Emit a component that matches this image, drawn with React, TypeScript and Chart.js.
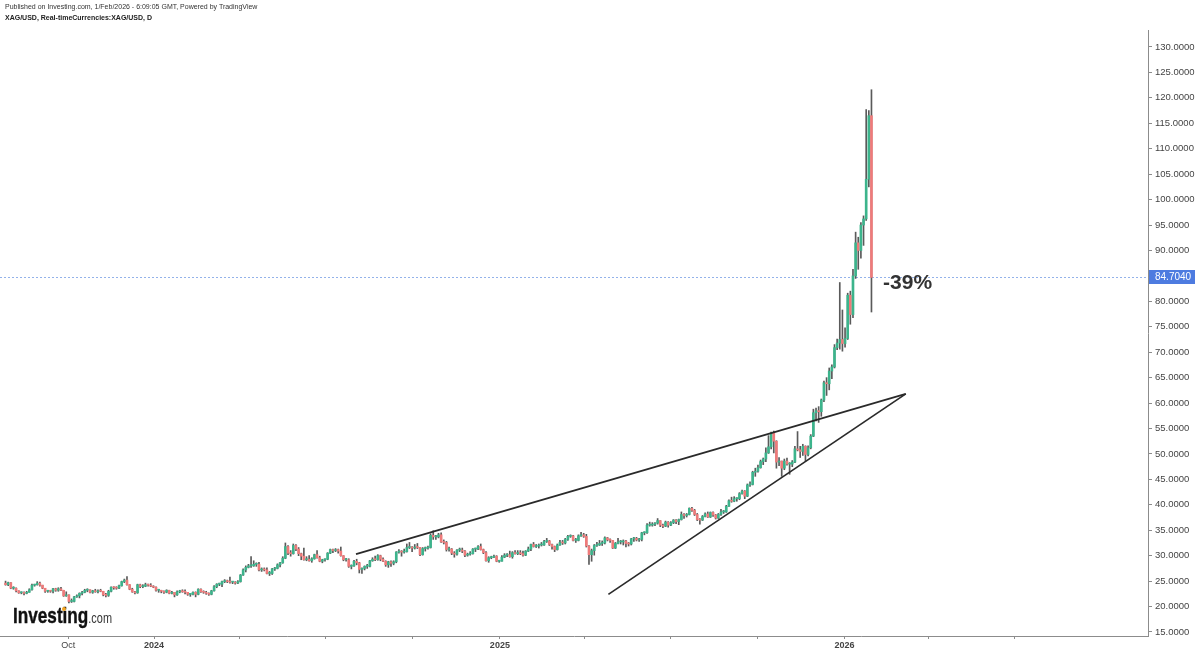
import React, { useEffect, useRef } from 'react';
import { Chart, registerables } from 'chart.js';

Chart.register(...registerables);

// Trading-day index of the first bar (0 = 1 Jan 2024); each bar spans two trading days
const FIRST_BAR_DAY = -113;
const DAYS_PER_BAR = 2;

const opens = [
  24.6, 24.3, 24.7, 23.6, 23.6, 23.1, 22.7, 22.7, 22.6, 22.8,
  23.3, 24.2, 24.3, 24.6, 24.2, 23.6, 23.0, 23.1, 23.0, 23.5,
  23.2, 23.5, 23.2, 22.1, 22.3, 21.0, 21.0, 21.9, 22.1, 22.6,
  22.8, 23.2, 23.3, 22.8, 23.1, 22.9, 23.1, 23.0, 22.3, 22.2,
  23.0, 23.8, 23.7, 23.6, 24.1, 24.9, 25.2, 24.3, 23.4, 22.9,
  22.7, 24.3, 23.9, 24.0, 24.3, 24.2, 24.0, 23.8, 23.2, 23.2,
  23.0, 22.8, 23.2, 22.6, 22.8, 22.3, 22.9, 23.1, 22.9, 22.8,
  22.4, 22.4, 22.8, 22.4, 23.4, 22.9, 22.8, 22.6, 22.4, 23.1,
  23.9, 24.4, 24.4, 24.9, 25.0, 24.9, 24.8, 24.8, 24.6, 24.9,
  26.2, 27.2, 27.7, 28.0, 28.0, 28.3, 28.3, 27.2, 27.3, 27.2,
  26.5, 26.5, 27.4, 27.5, 28.2, 28.6, 29.5, 31.8, 30.5, 30.4,
  32.0, 31.3, 30.4, 29.9, 29.2, 29.3, 29.0, 29.4, 30.2, 29.6,
  28.9, 29.2, 29.3, 30.5, 31.2, 31.0, 31.2, 30.9, 30.0, 29.2,
  29.2, 27.9, 28.0, 28.9, 28.6, 27.3, 27.5, 27.9, 27.9, 29.0,
  29.3, 29.2, 30.0, 29.3, 28.9, 28.2, 28.8, 28.5, 28.8, 30.7,
  30.8, 30.7, 30.8, 31.6, 31.6, 31.5, 31.7, 31.6, 30.2, 31.4,
  31.5, 31.6, 34.0, 33.7, 33.7, 34.1, 32.7, 32.6, 31.2, 31.3,
  30.5, 30.3, 31.1, 31.1, 30.9, 30.1, 30.3, 30.4, 31.3, 31.3,
  31.8, 31.2, 30.6, 29.0, 29.6, 29.7, 29.9, 28.9, 28.9, 29.7,
  30.1, 30.2, 29.8, 30.6, 30.4, 30.6, 30.4, 30.1, 30.9, 31.3,
  32.2, 31.8, 31.9, 32.1, 32.1, 32.8, 32.9, 32.2, 31.8, 31.2,
  32.1, 32.6, 32.5, 33.2, 33.8, 33.9, 33.0, 33.0, 33.9, 34.1,
  33.8, 31.9, 30.2, 31.0, 32.0, 32.1, 32.4, 32.5, 33.5, 33.1,
  33.0, 31.5, 32.4, 32.7, 32.7, 32.9, 32.4, 32.3, 33.3, 33.4,
  33.1, 33.2, 34.5, 34.5, 36.0, 36.0, 36.2, 36.4, 36.9, 36.0,
  35.8, 36.6, 36.0, 36.5, 37.0, 36.7, 37.1, 38.1, 37.9, 38.1,
  39.3, 38.9, 38.1, 37.1, 37.0, 37.7, 38.2, 37.6, 38.5, 38.0,
  37.4, 38.1, 38.6, 38.6, 39.7, 40.8, 40.7, 41.2, 41.2, 42.2,
  42.7, 41.7, 43.9, 44.0, 46.4, 46.6, 47.3, 48.5, 49.0, 50.2,
  51.4, 54.1, 52.5, 48.4, 48.6, 47.2, 48.6, 48.0, 48.0, 48.4,
  51.0, 50.8, 50.5, 51.5, 49.9, 51.2, 53.5, 58.1, 58.5, 58.3,
  60.6, 64.0, 63.8, 66.3, 67.1, 70.9, 71.8, 72.5, 71.7, 72.7,
  81.2, 77.4, 85.0, 91.5, 90.0, 95.0, 96.2, 104.0, 116.5,
];

const highs = [
  25.0, 24.8, 24.7, 23.9, 23.7, 23.1, 22.9, 22.9, 23.0, 23.5,
  24.4, 24.4, 24.9, 24.8, 24.2, 23.6, 23.2, 23.2, 23.6, 23.6,
  23.7, 23.8, 23.2, 22.9, 22.3, 21.5, 22.0, 22.3, 22.7, 23.0,
  23.4, 23.5, 23.3, 23.2, 23.4, 23.3, 23.4, 23.0, 22.6, 23.2,
  23.9, 23.9, 23.9, 24.2, 25.0, 25.4, 25.9, 24.3, 23.6, 23.0,
  24.4, 24.4, 24.3, 24.6, 24.4, 24.5, 24.1, 23.9, 23.4, 23.2,
  23.1, 23.3, 23.2, 23.0, 22.8, 23.1, 23.2, 23.3, 23.3, 22.8,
  22.5, 22.9, 22.9, 23.5, 23.5, 23.1, 23.0, 22.7, 23.2, 24.1,
  24.5, 24.6, 25.0, 25.3, 25.2, 25.8, 24.9, 24.9, 25.1, 26.3,
  27.4, 28.0, 28.3, 29.8, 29.0, 28.6, 28.7, 27.6, 27.6, 27.6,
  26.9, 27.5, 27.7, 28.4, 28.7, 29.8, 32.5, 32.0, 31.0, 32.3,
  32.2, 31.6, 30.5, 31.5, 29.8, 30.0, 29.6, 30.3, 31.0, 29.9,
  29.3, 29.4, 30.6, 31.3, 31.3, 31.4, 31.3, 31.7, 30.0, 29.5,
  29.4, 28.2, 29.1, 29.3, 28.7, 27.6, 28.0, 28.3, 29.1, 29.6,
  29.9, 30.2, 30.1, 29.6, 29.0, 28.9, 29.0, 29.0, 30.8, 31.2,
  31.0, 31.3, 32.3, 32.6, 31.8, 32.2, 32.4, 31.6, 31.6, 31.7,
  31.9, 34.3, 34.9, 34.0, 34.4, 34.5, 33.1, 32.8, 31.7, 31.4,
  30.8, 31.2, 31.5, 31.5, 31.0, 30.5, 30.8, 31.4, 31.5, 32.0,
  32.3, 31.3, 30.8, 29.8, 29.9, 30.1, 30.0, 29.1, 30.0, 30.4,
  30.4, 30.9, 30.8, 31.0, 31.0, 31.0, 30.9, 31.0, 31.7, 32.3,
  32.6, 32.2, 32.3, 32.6, 33.0, 33.4, 33.0, 32.3, 31.9, 32.3,
  33.0, 33.0, 33.4, 34.0, 34.1, 34.0, 33.4, 34.1, 34.6, 34.4,
  34.2, 32.0, 31.3, 32.2, 32.6, 33.0, 32.9, 33.7, 33.6, 33.3,
  33.0, 32.6, 33.4, 33.0, 33.1, 33.0, 32.6, 33.4, 33.6, 33.6,
  33.4, 34.6, 34.7, 36.3, 36.6, 36.5, 36.5, 37.3, 36.9, 36.2,
  36.8, 36.7, 36.7, 37.1, 37.1, 37.2, 38.6, 38.3, 38.3, 39.4,
  39.5, 39.1, 38.3, 37.3, 37.9, 38.4, 38.6, 38.6, 38.6, 38.1,
  38.3, 39.1, 38.9, 39.9, 41.0, 41.5, 41.6, 41.4, 42.4, 42.9,
  42.8, 44.1, 44.5, 46.6, 47.2, 47.8, 48.8, 49.2, 51.2, 53.6,
  54.3, 54.5, 52.6, 49.3, 48.6, 49.0, 49.2, 48.3, 48.7, 51.5,
  54.4, 51.5, 51.9, 51.6, 51.6, 53.8, 58.8, 59.0, 59.3, 60.8,
  64.3, 65.0, 66.9, 67.5, 71.5, 72.6, 83.7, 78.3, 74.8, 81.6,
  82.0, 86.3, 93.6, 92.6, 95.5, 96.8, 117.7, 117.5, 121.6,
];

const lows = [
  24.2, 24.1, 23.5, 23.4, 22.9, 22.6, 22.5, 22.3, 22.5, 22.8,
  23.2, 24.0, 24.2, 24.0, 23.5, 22.8, 22.8, 22.8, 22.7, 23.0,
  23.0, 23.1, 22.0, 22.0, 20.7, 20.8, 20.9, 21.8, 21.7, 22.3,
  22.7, 22.9, 22.7, 22.6, 22.8, 22.7, 22.9, 22.1, 21.9, 22.0,
  22.9, 23.4, 23.4, 23.5, 24.0, 24.7, 24.2, 23.3, 22.8, 22.5,
  22.6, 23.7, 23.7, 23.9, 24.0, 23.9, 23.7, 23.0, 22.8, 22.7,
  22.6, 22.7, 22.5, 22.5, 21.9, 22.2, 22.7, 22.8, 22.5, 22.2,
  22.0, 22.3, 21.9, 22.3, 22.8, 22.6, 22.4, 22.2, 22.3, 23.0,
  23.7, 24.1, 23.9, 24.7, 24.7, 24.6, 24.5, 24.4, 24.5, 24.8,
  26.1, 26.8, 27.6, 27.7, 27.9, 27.9, 27.0, 26.9, 27.0, 26.4,
  26.1, 26.3, 27.1, 27.4, 27.8, 28.5, 29.4, 30.2, 29.9, 30.3,
  31.0, 30.0, 29.2, 29.1, 29.0, 28.9, 28.7, 29.3, 29.5, 28.8,
  28.6, 28.9, 29.2, 30.4, 30.6, 30.8, 30.5, 29.9, 29.0, 28.9,
  27.7, 27.4, 27.9, 28.2, 26.6, 26.5, 27.2, 27.5, 27.8, 28.9,
  29.0, 29.1, 29.0, 28.8, 27.9, 27.7, 27.9, 28.2, 28.6, 30.5,
  29.9, 30.5, 30.7, 31.4, 30.8, 31.3, 31.4, 30.0, 30.1, 30.9,
  31.3, 31.5, 33.2, 33.2, 33.5, 32.6, 32.3, 30.9, 30.9, 30.2,
  29.7, 30.1, 30.8, 30.6, 29.8, 29.9, 30.1, 30.3, 30.8, 31.2,
  31.1, 30.4, 28.9, 28.7, 29.4, 29.6, 28.8, 28.7, 28.9, 29.6,
  29.8, 29.7, 29.5, 30.3, 30.2, 30.2, 29.9, 30.0, 30.8, 31.0,
  31.7, 31.6, 31.5, 31.9, 32.0, 32.6, 32.0, 31.3, 30.8, 31.1,
  32.0, 32.2, 32.3, 33.0, 33.6, 32.9, 32.6, 32.9, 33.8, 33.6,
  31.7, 28.3, 28.9, 30.1, 31.8, 32.0, 32.0, 32.3, 32.9, 32.6,
  31.4, 31.4, 32.3, 32.3, 32.1, 31.7, 31.9, 32.1, 32.8, 32.9,
  32.8, 32.9, 34.1, 34.4, 35.8, 35.8, 35.9, 36.2, 35.7, 35.5,
  35.7, 35.6, 35.9, 36.3, 36.3, 36.1, 37.0, 37.3, 37.6, 38.0,
  38.7, 37.9, 36.9, 36.2, 36.9, 37.6, 37.5, 37.5, 37.7, 37.2,
  37.3, 37.9, 38.3, 38.5, 39.7, 40.5, 40.6, 40.7, 41.0, 42.1,
  41.2, 41.6, 43.6, 43.9, 45.6, 46.4, 47.2, 47.9, 48.5, 50.1,
  51.0, 50.2, 47.2, 47.7, 45.6, 46.9, 47.8, 46.0, 47.5, 48.3,
  50.6, 49.3, 49.7, 48.6, 49.6, 51.0, 53.4, 56.5, 56.2, 57.4,
  60.3, 61.5, 62.6, 64.8, 66.9, 70.5, 70.6, 70.2, 71.0, 72.5,
  75.5, 76.8, 84.5, 86.3, 88.5, 91.0, 95.9, 102.5, 77.9,
];

const closes = [
  24.3, 24.7, 23.6, 23.6, 23.1, 22.7, 22.7, 22.6, 22.8, 23.3,
  24.2, 24.3, 24.6, 24.2, 23.6, 23.0, 23.1, 23.0, 23.5, 23.2,
  23.5, 23.2, 22.1, 22.3, 21.0, 21.0, 21.9, 22.1, 22.6, 22.8,
  23.2, 23.3, 22.8, 23.1, 22.9, 23.1, 23.0, 22.3, 22.2, 23.0,
  23.8, 23.7, 23.6, 24.1, 24.9, 25.2, 24.3, 23.4, 22.9, 22.7,
  24.3, 23.9, 24.0, 24.3, 24.2, 24.0, 23.8, 23.2, 23.2, 23.0,
  22.8, 23.2, 22.6, 22.8, 22.3, 22.9, 23.1, 22.9, 22.8, 22.4,
  22.4, 22.8, 22.4, 23.4, 22.9, 22.8, 22.6, 22.4, 23.1, 23.9,
  24.4, 24.4, 24.9, 25.0, 24.9, 24.8, 24.8, 24.6, 24.9, 26.2,
  27.2, 27.7, 28.0, 28.0, 28.3, 28.3, 27.2, 27.3, 27.2, 26.5,
  26.5, 27.4, 27.5, 28.2, 28.6, 29.5, 31.8, 30.5, 30.4, 32.0,
  31.3, 30.4, 29.9, 29.2, 29.3, 29.0, 29.4, 30.2, 29.6, 28.9,
  29.2, 29.3, 30.5, 31.2, 31.0, 31.2, 30.9, 30.0, 29.2, 29.2,
  27.9, 28.0, 28.9, 28.6, 27.3, 27.5, 27.9, 27.9, 29.0, 29.3,
  29.2, 30.0, 29.3, 28.9, 28.2, 28.8, 28.5, 28.8, 30.7, 30.8,
  30.7, 30.8, 31.6, 31.6, 31.5, 31.7, 31.6, 30.2, 31.4, 31.5,
  31.6, 34.0, 33.7, 33.7, 34.1, 32.7, 32.6, 31.2, 31.3, 30.5,
  30.3, 31.1, 31.1, 30.9, 30.1, 30.3, 30.4, 31.3, 31.3, 31.8,
  31.2, 30.6, 29.0, 29.6, 29.7, 29.9, 28.9, 28.9, 29.7, 30.1,
  30.2, 29.8, 30.6, 30.4, 30.6, 30.4, 30.1, 30.9, 31.3, 32.2,
  31.8, 31.9, 32.1, 32.1, 32.8, 32.9, 32.2, 31.8, 31.2, 32.1,
  32.6, 32.5, 33.2, 33.8, 33.9, 33.0, 33.0, 33.9, 34.1, 33.8,
  31.9, 30.2, 31.0, 32.0, 32.1, 32.4, 32.5, 33.5, 33.1, 33.0,
  31.5, 32.4, 32.7, 32.7, 32.9, 32.4, 32.3, 33.3, 33.4, 33.1,
  33.2, 34.5, 34.5, 36.0, 36.0, 36.2, 36.4, 36.9, 36.0, 35.8,
  36.6, 36.0, 36.5, 37.0, 36.7, 37.1, 38.1, 37.9, 38.1, 39.3,
  38.9, 38.1, 37.1, 37.0, 37.7, 38.2, 37.6, 38.5, 38.0, 37.4,
  38.1, 38.6, 38.6, 39.7, 40.8, 40.7, 41.2, 41.2, 42.2, 42.7,
  41.7, 43.9, 44.0, 46.4, 46.6, 47.3, 48.5, 49.0, 50.2, 51.4,
  54.1, 52.5, 48.4, 48.6, 47.2, 48.6, 48.0, 48.0, 48.4, 51.0,
  50.8, 50.5, 51.5, 49.9, 51.2, 53.5, 58.1, 58.5, 58.3, 60.6,
  64.0, 63.8, 66.3, 67.1, 70.9, 71.8, 72.5, 71.7, 72.7, 81.2,
  77.4, 85.0, 91.5, 90.0, 95.0, 96.2, 104.0, 116.5, 84.7,
];

// Axis ticks (trading-day index of each quarter start) and their labels
const quarterDays = [-65, 0, 65, 130, 196, 262, 326, 391, 457, 523, 587, 652];
const quarterLabels = ['Oct', '2024', '', '', '', '2025', '', '', '', '2026', '', ''];
const priceTicks = [15, 20, 25, 30, 35, 40, 45, 50, 55, 60, 65, 70, 75, 80, 85, 90, 95, 100, 105, 110, 115, 120, 125, 130];

// Hand-drawn trend lines (trading-day index, price)
const upperTrendDays = [153.0, 569.5];
const upperTrendPrices = [30.3, 61.8];
const lowerTrendDays = [344.2, 569.5];
const lowerTrendPrices = [22.4, 61.8];

const lastPrice = 84.704;
const annotationText = '-39%';
const annotationDay = 552.3;
const annotationPrice = 83.6;

const X_MIN = -116.7;
const X_MAX = 753.0;
const Y_MIN = 14.21;
const Y_MAX = 133.34;

const UP = '#3cb48c';
const DOWN = '#ef7a7a';
const WICK = '#5a5a5a';

const overlayPlugin = {
  id: 'overlay',
  beforeDatasetsDraw(chart: any) {
    const { ctx, chartArea, scales } = chart;
    const y = Math.round(scales.y.getPixelForValue(lastPrice)) + 0.5;
    ctx.save();
    ctx.strokeStyle = '#93b2ea';
    ctx.lineWidth = 1;
    ctx.setLineDash([2, 2]);
    ctx.beginPath();
    ctx.moveTo(chartArea.left, y);
    ctx.lineTo(chartArea.right, y);
    ctx.stroke();
    ctx.restore();
  },
  afterDraw(chart: any) {
    const { ctx, chartArea, scales } = chart;
    const y = scales.y.getPixelForValue(lastPrice);
    ctx.save();
    ctx.fillStyle = '#4d7be0';
    ctx.fillRect(chartArea.right + 1, Math.round(y) - 7, 46, 14);
    ctx.fillStyle = '#ffffff';
    ctx.font = '10px "Liberation Sans", Arial, sans-serif';
    ctx.textBaseline = 'middle';
    ctx.textAlign = 'left';
    ctx.fillText(lastPrice.toFixed(4), chartArea.right + 7, Math.round(y) + 0.5);

    const ax = scales.x.getPixelForValue(annotationDay);
    const ay = scales.y.getPixelForValue(annotationPrice);
    ctx.fillStyle = '#333333';
    ctx.font = 'bold 21px "Liberation Sans", Arial, sans-serif';
    ctx.fillText(annotationText, ax, ay);
    ctx.restore();
  },
};

export default function App() {
  const canvasRef = useRef<HTMLCanvasElement | null>(null);

  useEffect(() => {
    const canvas = canvasRef.current;
    if (!canvas) return;
    const barDays = closes.map((_, i) => FIRST_BAR_DAY + DAYS_PER_BAR * i + 0.5);
    const wickData = barDays.map((d, i) => ({ x: d, y: [lows[i], highs[i]] }));
    const bodyData = barDays.map((d, i) => ({ x: d, y: [opens[i], closes[i]] }));
    const bodyColors = closes.map((c, i) => (c >= opens[i] ? UP : DOWN));

    const chart = new Chart(canvas, {
      type: 'bar',
      data: {
        datasets: [
          {
            type: 'line',
            data: upperTrendDays.map((d, i) => ({ x: d, y: upperTrendPrices[i] })),
            borderColor: '#2a2a2a',
            borderWidth: 1.7,
            pointRadius: 0,
            order: 0,
          } as any,
          {
            type: 'line',
            data: lowerTrendDays.map((d, i) => ({ x: d, y: lowerTrendPrices[i] })),
            borderColor: '#2a2a2a',
            borderWidth: 1.7,
            pointRadius: 0,
            order: 0,
          } as any,
          {
            type: 'bar',
            data: bodyData as any,
            backgroundColor: bodyColors,
            barThickness: 2,
            minBarLength: 1,
            grouped: false,
            order: 1,
          },
          {
            type: 'bar',
            data: wickData as any,
            backgroundColor: WICK,
            barThickness: 1,
            grouped: false,
            order: 2,
          },
        ],
      },
      options: {
        responsive: false,
        animation: false,
        events: [],
        layout: { padding: { top: 30, left: 0, right: 0, bottom: 0 } },
        plugins: { legend: { display: false }, tooltip: { enabled: false } },
        scales: {
          x: {
            type: 'linear',
            min: X_MIN,
            max: X_MAX,
            offset: false,
            afterFit: (s: any) => { s.height = 18; },
            afterBuildTicks: (s: any) => { s.ticks = quarterDays.map((v) => ({ value: v })); },
            grid: { offset: false, drawOnChartArea: false, drawTicks: true, tickLength: 3, color: '#8c8c8c' },
            border: { display: true, color: '#8c8c8c', width: 1 },
            ticks: {
              autoSkip: false,
              maxRotation: 0,
              padding: 1,
              color: '#444444',
              font: (c: any) => ({
                size: 9,
                family: '"Liberation Sans", Arial, sans-serif',
                weight: c.tick && /^\d{4}$/.test(c.tick.label) ? 'bold' : 'normal',
              }),
              callback: (v: any) => {
                const i = quarterDays.indexOf(v);
                return i >= 0 ? quarterLabels[i] : '';
              },
            },
          },
          y: {
            type: 'linear',
            position: 'right',
            min: Y_MIN,
            max: Y_MAX,
            afterFit: (s: any) => { s.width = 52; },
            afterBuildTicks: (s: any) => { s.ticks = priceTicks.map((v) => ({ value: v })); },
            grid: { offset: false, drawOnChartArea: false, drawTicks: true, tickLength: 4, color: '#8c8c8c' },
            border: { display: true, color: '#8c8c8c', width: 1 },
            ticks: {
              padding: 3,
              color: '#444444',
              font: { size: 9.5, family: '"Liberation Sans", Arial, sans-serif' },
              callback: (v: any) => Number(v).toFixed(4),
            },
          },
        },
      },
      plugins: [overlayPlugin],
    } as any);

    return () => chart.destroy();
  }, []);

  return (
    <div style={{ position: 'absolute', left: 0, top: 0, width: 1200, height: 654, background: '#ffffff', overflow: 'hidden' }}>
      <canvas ref={canvasRef} width={1200} height={654} style={{ position: 'absolute', left: 0, top: 0 }} />
      <div style={{ position: 'absolute', left: 5, top: 3, font: '7px "Liberation Sans", Arial, sans-serif', color: '#333', whiteSpace: 'nowrap' }}>
        Published on Investing.com, 1/Feb/2026 - 6:09:05 GMT, Powered by TradingView
      </div>
      <div style={{ position: 'absolute', left: 5, top: 14, font: 'bold 7px "Liberation Sans", Arial, sans-serif', color: '#222', whiteSpace: 'nowrap' }}>
        XAG/USD, Real-timeCurrencies:XAG/USD, D
      </div>
      <div style={{ position: 'absolute', left: 13, top: 603, whiteSpace: 'nowrap', lineHeight: '24px', transform: 'scaleX(0.78)', transformOrigin: '0 0' }}>
        <span style={{ font: 'bold 22px "Liberation Sans", Arial, sans-serif', color: '#111', WebkitTextStroke: '0.4px #111' }}>Investing</span>
        <span style={{ font: '14px "Liberation Sans", Arial, sans-serif', color: '#333' }}>.com</span>
      </div>
      <div style={{ position: 'absolute', left: 62, top: 607, width: 4, height: 4, borderRadius: 2, background: '#f5a623' }} />
    </div>
  );
}
